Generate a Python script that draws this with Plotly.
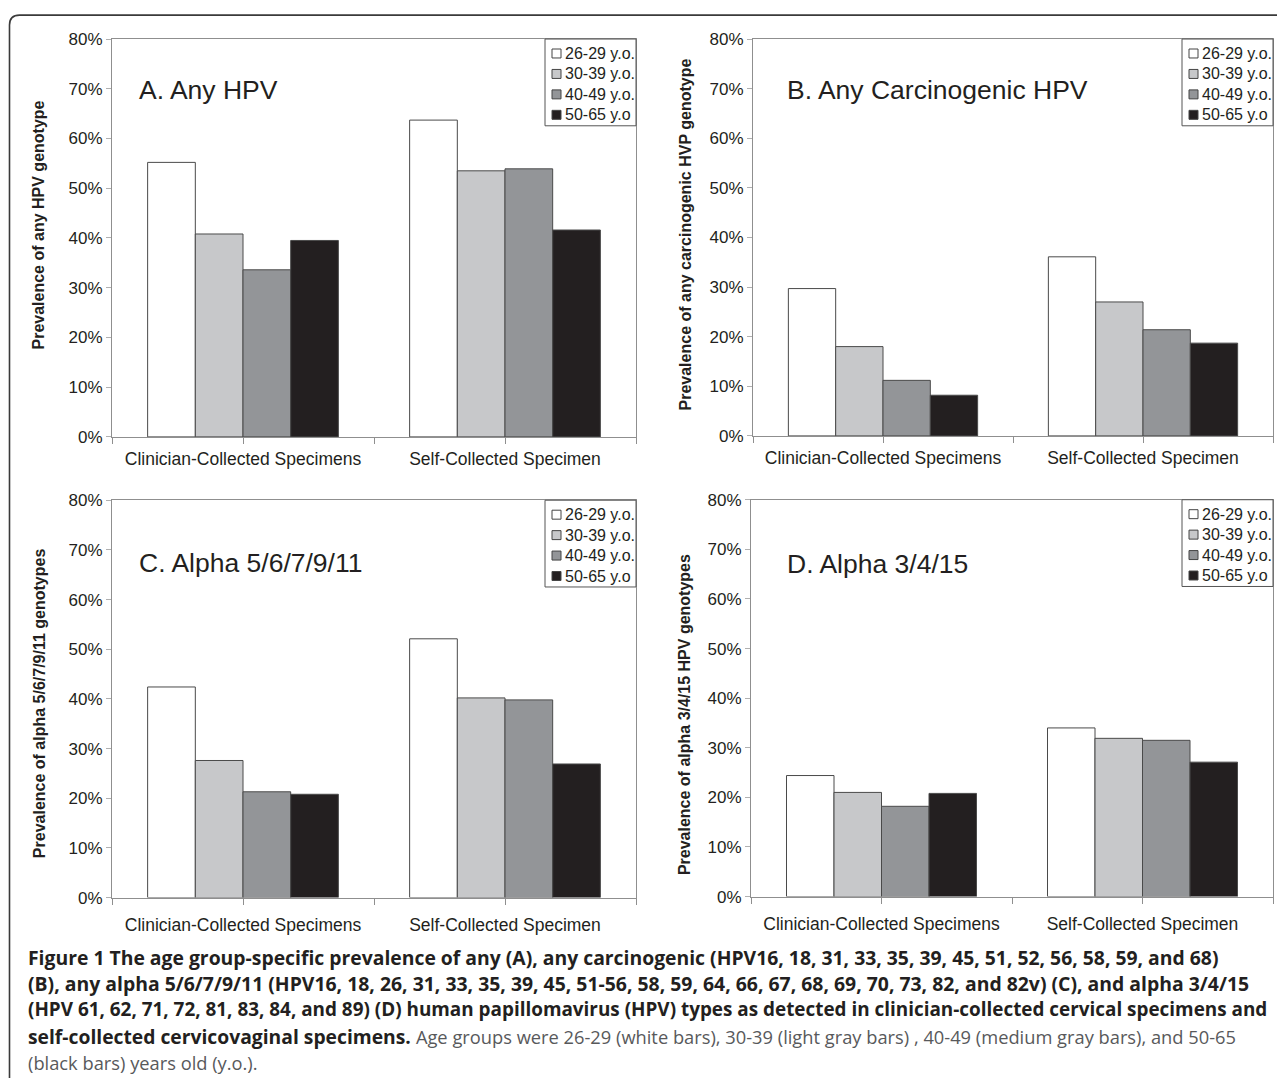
import plotly.graph_objects as go

# ---------------- data ----------------
categories = ["Clinician-Collected Specimens", "Self-Collected Specimen"]
age_groups = ["26-29 y.o.", "30-39 y.o.", "40-49 y.o.", "50-65 y.o"]
panel_titles = ["A. Any HPV", "B. Any Carcinogenic HPV",
                "C. Alpha 5/6/7/9/11", "D. Alpha 3/4/15"]
y_titles = ["Prevalence of any HPV genotype",
            "Prevalence of any carcinogenic HVP genotype",
            "Prevalence of alpha 5/6/7/9/11 genotypes",
            "Prevalence of alpha 3/4/15 HPV genotypes"]
y_tick_values = [0, 10, 20, 30, 40, 50, 60, 70, 80]
y_tick_labels = ["0%", "10%", "20%", "30%", "40%", "50%", "60%", "70%", "80%"]

# values: [clinician-collected, self-collected] (%)
a_26_29 = [55.2, 63.7]
a_30_39 = [40.8, 53.5]
a_40_49 = [33.6, 53.9]
a_50_65 = [39.5, 41.6]

b_26_29 = [29.7, 36.1]
b_30_39 = [18.0, 27.0]
b_40_49 = [11.2, 21.4]
b_50_65 = [8.2, 18.7]

c_26_29 = [42.4, 52.1]
c_30_39 = [27.6, 40.2]
c_40_49 = [21.3, 39.8]
c_50_65 = [20.8, 26.9]

d_26_29 = [24.4, 34.0]
d_30_39 = [21.0, 31.9]
d_40_49 = [18.2, 31.5]
d_50_65 = [20.8, 27.1]

panels = [
    [a_26_29, a_30_39, a_40_49, a_50_65],
    [b_26_29, b_30_39, b_40_49, b_50_65],
    [c_26_29, c_30_39, c_40_49, c_50_65],
    [d_26_29, d_30_39, d_40_49, d_50_65],
]

REG = "<span style='color:#58595b;font-size:18.3px'>"
caption_lines = [
    "<b>Figure 1 The age group-specific prevalence of any (A), any carcinogenic (HPV16, 18, 31, 33, 35, 39, 45, 51, 52, 56, 58, 59, and 68)</b>",
    "<b>(B), any alpha 5/6/7/9/11 (HPV16, 18, 26, 31, 33, 35, 39, 45, 51-56, 58, 59, 64, 66, 67, 68, 69, 70, 73, 82, and 82v) (C), and alpha 3/4/15</b>",
    "<b>(HPV 61, 62, 71, 72, 81, 83, 84, and 89) (D) human papillomavirus (HPV) types as detected in clinician-collected cervical specimens and</b>",
    "<b>self-collected cervicovaginal specimens.</b> " + REG + "Age groups were 26-29 (white bars), 30-39 (light gray bars) , 40-49 (medium gray bars), and 50-65</span>",
    REG + "(black bars) years old (y.o.).</span>",
]

# ---------------- styling ----------------
bar_colors = ["#ffffff", "#c7c8ca", "#939598", "#231f20"]
bar_line = "#4a4a4a"
text_color = "#231f20"
axis_grey = "#8f8f8f"
FONT = "Liberation Sans, Arial, sans-serif"
CAP_FONT = "Open Sans, sans-serif"

W, H, OFF = 1269, 1070, 8
Y0, YSPAN = 15.9, 1054.0   # on-screen vertical placement of the figure


def px(x):
    return (x - OFF) / W


def py(y):
    return 1 - (y - Y0) / YSPAN


# page-pixel boxes of each plot area: (left, right, top, bottom)
boxes = [(112, 636, 38, 437), (753, 1273, 38, 436),
         (112, 636, 500.5, 899), (751, 1273, 500, 898)]
title_pos = [(137, 89), (785, 89), (137, 563), (785, 564)]
ytitle_pos = [(39, 225), (685, 234), (39, 704), (684, 716)]
label_standoff = [0, 0, 5, 5]
legend_w, legend_h = 91, 87
legend_rows = [14.5, 35, 55.5, 76]

fig = go.Figure()
shapes, annotations = [], []
x_idx = list(range(len(categories)))

for p, series in enumerate(panels):
    sfx = "" if p == 0 else str(p + 1)
    for g, vals in enumerate(series):
        fig.add_trace(go.Bar(
            x=x_idx, y=vals, name=age_groups[g],
            marker=dict(color=bar_colors[g], line=dict(color=bar_line, width=1)),
            xaxis="x" + sfx, yaxis="y" + sfx, showlegend=False,
            hovertemplate="%{y:.1f}%<extra>" + age_groups[g] + "</extra>",
        ))
    l, r, t, b = boxes[p]
    fig.update_layout(**{
        "xaxis" + sfx: dict(
            domain=[px(l), px(r)], anchor="y" + sfx, range=[-0.5, len(categories) - 0.5],
            tickvals=[-0.5, 0, 0.5, 1, 1.5],
            ticktext=["", categories[0], "", categories[1], ""],
            ticks="outside", ticklen=6, tickcolor=axis_grey, showline=True, mirror=True,
            linecolor=axis_grey, linewidth=1, showgrid=False, zeroline=False,
            ticklabelstandoff=label_standoff[p],
            tickfont=dict(family=FONT, size=17.5, color=text_color), fixedrange=True),
        "yaxis" + sfx: dict(
            domain=[py(b), py(t)], anchor="x" + sfx, range=[0, 80],
            tickvals=y_tick_values, ticktext=y_tick_labels,
            ticks="outside", ticklen=5, tickcolor="#b0b0b0", showline=True, mirror=True,
            linecolor=axis_grey, linewidth=1, showgrid=False, zeroline=False,
            tickfont=dict(family=FONT, size=17, color=text_color), fixedrange=True),
    })
    # panel title
    tx, ty = title_pos[p]
    annotations.append(dict(text=panel_titles[p], x=px(tx), y=py(ty), xref="paper", yref="paper",
                            xanchor="left", yanchor="middle", showarrow=False,
                            font=dict(family=FONT, size=26.5, color=text_color)))
    # y axis title
    yx, yy = ytitle_pos[p]
    annotations.append(dict(text="<b>" + y_titles[p] + "</b>", x=px(yx), y=py(yy),
                            xref="paper", yref="paper", xanchor="center", yanchor="middle",
                            textangle=-90, showarrow=False,
                            font=dict(family=FONT, size=16, color=text_color)))
    # legend box
    lx0 = r - legend_w
    shapes.append(dict(type="rect", xref="paper", yref="paper", x0=px(lx0), x1=px(r),
                       y0=py(t + legend_h), y1=py(t), fillcolor="#ffffff",
                       line=dict(color="#555555", width=1)))
    for g, name in enumerate(age_groups):
        cy = t + legend_rows[g]
        shapes.append(dict(type="rect", xref="paper", yref="paper",
                           x0=px(lx0 + 7), x1=px(lx0 + 16), y0=py(cy + 4.5), y1=py(cy - 4.5),
                           fillcolor=bar_colors[g], line=dict(color="#444444", width=1)))
        annotations.append(dict(text=name, x=px(lx0 + 18), y=py(cy), xref="paper", yref="paper",
                                xanchor="left", yanchor="middle", showarrow=False,
                                font=dict(family=FONT, size=16, color=text_color)))

# outer rounded border (top-left corner visible)
bx, by, rad = 9.5, 14, 10
path = (f"M {px(bx)} {py(1200)} L {px(bx)} {py(by + rad)} "
        f"Q {px(bx)} {py(by)} {px(bx + rad)} {py(by)} L {px(1400)} {py(by)}")
shapes.append(dict(type="path", xref="paper", yref="paper", path=path,
                   line=dict(color="#3a3a3a", width=1.6)))

# caption
cap_y = [959, 985, 1011, 1038, 1064]
cap_size = [19.35, 19.4, 18.9, 19.3, 19.3]
for i, line in enumerate(caption_lines):
    annotations.append(dict(text=line, x=px(26), y=py(cap_y[i]), xref="paper", yref="paper",
                            xanchor="left", yanchor="middle", showarrow=False,
                            font=dict(family=CAP_FONT, size=cap_size[i], color=text_color)))

fig.update_layout(
    width=W, height=H, margin=dict(l=0, r=0, t=0, b=0),
    paper_bgcolor="#ffffff", plot_bgcolor="#ffffff",
    barmode="group", bargap=0.272, bargroupgap=0,
    shapes=shapes, annotations=annotations, showlegend=False,
    font=dict(family=FONT, color=text_color),
)

fig.write_html("out.html")
